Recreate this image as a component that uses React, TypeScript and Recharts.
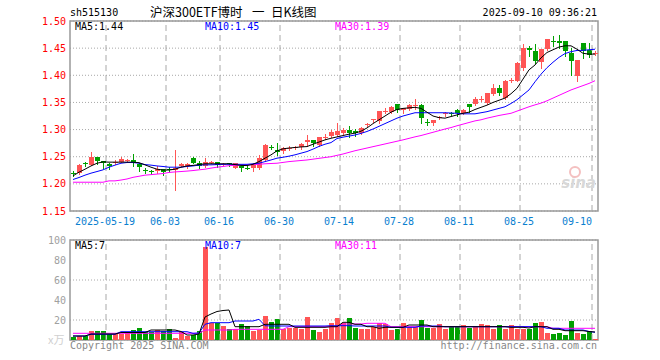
import React from 'react';
import { ComposedChart, Bar, Line, XAxis, YAxis, CartesianGrid, ReferenceLine, ReferenceArea } from 'recharts';

const dates = [
  '2025-05-09','2025-05-12','2025-05-13','2025-05-14','2025-05-15','2025-05-16','2025-05-19','2025-05-20','2025-05-21','2025-05-22',
  '2025-05-23','2025-05-26','2025-05-27','2025-05-28','2025-05-29','2025-05-30','2025-06-03','2025-06-04','2025-06-05','2025-06-06',
  '2025-06-09','2025-06-10','2025-06-11','2025-06-12','2025-06-13','2025-06-16','2025-06-17','2025-06-18','2025-06-19','2025-06-20',
  '2025-06-23','2025-06-24','2025-06-25','2025-06-26','2025-06-27','2025-06-30','2025-07-01','2025-07-02','2025-07-03','2025-07-04',
  '2025-07-07','2025-07-08','2025-07-09','2025-07-10','2025-07-11','2025-07-14','2025-07-15','2025-07-16','2025-07-17','2025-07-18',
  '2025-07-21','2025-07-22','2025-07-23','2025-07-24','2025-07-25','2025-07-28','2025-07-29','2025-07-30','2025-07-31','2025-08-01',
  '2025-08-04','2025-08-05','2025-08-06','2025-08-07','2025-08-08','2025-08-11','2025-08-12','2025-08-13','2025-08-14','2025-08-15',
  '2025-08-18','2025-08-19','2025-08-20','2025-08-21','2025-08-22','2025-08-25','2025-08-26','2025-08-27','2025-08-28','2025-08-29',
  '2025-09-01','2025-09-02','2025-09-03','2025-09-04','2025-09-05','2025-09-08','2025-09-09','2025-09-10',
];

const opens = [
  1.220,1.2197,1.238,1.234,1.249,1.242,1.237,1.239,1.241,1.243,
  1.244,1.237,1.2255,1.223,1.2235,1.227,1.228,1.226,1.233,1.232,
  1.248,1.239,1.232,1.240,1.240,1.236,1.238,1.230,1.233,1.230,
  1.230,1.230,1.244,1.268,1.263,1.261,1.265,1.266,1.267,1.277,
  1.281,1.272,1.285,1.289,1.290,1.294,1.299,1.297,1.2945,1.309,
  1.318,1.315,1.332,1.333,1.347,1.336,1.338,1.344,1.346,1.3135,
  1.312,1.322,1.329,1.331,1.336,1.331,1.347,1.347,1.355,1.349,
  1.366,1.376,1.358,1.391,1.390,1.413,1.4505,1.444,1.425,1.449,
  1.463,1.463,1.463,1.441,1.398,1.459,1.447,1.440,
];
const highs = [
  1.224,1.237,1.240,1.259,1.250,1.242,1.238,1.244,1.249,1.246,
  1.255,1.238,1.229,1.225,1.232,1.228,1.231,1.263,1.238,1.239,
  1.249,1.242,1.248,1.243,1.241,1.238,1.239,1.239,1.233,1.232,
  1.239,1.253,1.273,1.271,1.275,1.267,1.269,1.269,1.275,1.290,
  1.281,1.287,1.291,1.300,1.312,1.302,1.307,1.301,1.304,1.313,
  1.319,1.335,1.340,1.343,1.348,1.340,1.348,1.356,1.347,1.320,
  1.318,1.325,1.332,1.333,1.338,1.338,1.347,1.360,1.361,1.368,
  1.384,1.382,1.391,1.395,1.425,1.457,1.454,1.458,1.448,1.4675,
  1.4715,1.4745,1.463,1.451,1.429,1.459,1.459,1.445,
];
const lows = [
  1.215,1.218,1.233,1.234,1.237,1.229,1.228,1.237,1.240,1.241,
  1.233,1.2245,1.220,1.219,1.220,1.217,1.222,1.188,1.232,1.230,
  1.238,1.229,1.231,1.238,1.231,1.234,1.233,1.229,1.224,1.227,
  1.224,1.228,1.243,1.264,1.2535,1.256,1.262,1.264,1.265,1.270,
  1.270,1.270,1.283,1.287,1.289,1.292,1.286,1.289,1.292,1.307,
  1.314,1.313,1.330,1.330,1.333,1.330,1.336,1.338,1.313,1.308,
  1.309,1.319,1.325,1.327,1.325,1.329,1.333,1.345,1.352,1.348,
  1.364,1.364,1.356,1.388,1.389,1.410,1.436,1.422,1.414,1.447,
  1.454,1.450,1.436,1.400,1.390,1.431,1.433,1.438,
];
const closes = [
  1.219,1.235,1.237,1.250,1.243,1.238,1.233,1.241,1.246,1.244,
  1.238,1.231,1.2245,1.222,1.228,1.221,1.226,1.2295,1.237,1.236,
  1.239,1.233,1.241,1.241,1.235,1.237,1.236,1.238,1.230,1.229,
  1.236,1.248,1.272,1.267,1.258,1.266,1.266,1.267,1.274,1.281,
  1.275,1.2865,1.2865,1.295,1.298,1.300,1.293,1.293,1.3025,1.310,
  1.319,1.334,1.334,1.342,1.336,1.339,1.345,1.346,1.321,1.313,
  1.318,1.324,1.330,1.330,1.331,1.336,1.341,1.356,1.357,1.367,
  1.376,1.368,1.389,1.392,1.4235,1.4505,1.446,1.427,1.448,1.467,
  1.462,1.459,1.445,1.4255,1.428,1.4455,1.438,1.441,
];

const ma5 = [
  1.2147,1.2215,1.227,1.233,1.238,1.2405,1.240,1.240,1.240,1.240,
  1.240,1.239,1.235,1.2307,1.227,1.2255,1.2255,1.227,1.2307,1.233,
  1.234,1.2355,1.237,1.237,1.237,1.237,1.237,1.2355,1.234,1.2337,
  1.236,1.241,1.2473,1.2534,1.2608,1.2645,1.266,1.267,1.268,1.2687,
  1.273,1.277,1.281,1.284,1.2865,1.289,1.2915,1.2934,1.297,1.303,
  1.311,1.318,1.325,1.332,1.337,1.339,1.340,1.341,1.339,1.332,
  1.325,1.322,1.321,1.324,1.327,1.330,1.332,1.337,1.341,1.345,
  1.350,1.354,1.358,1.366,1.376,1.393,1.410,1.419,1.432,1.442,
  1.447,1.452,1.4543,1.4543,1.448,1.4405,1.439,1.439,
];
const ma10 = [
  1.208,1.2117,1.216,1.2197,1.2227,1.2258,1.2307,1.2345,1.238,1.2393,
  1.2393,1.238,1.2355,1.2345,1.233,1.232,1.2307,1.2307,1.2307,1.232,
  1.233,1.2345,1.235,1.235,1.2355,1.236,1.236,1.236,1.236,1.236,
  1.237,1.238,1.241,1.244,1.2473,1.249,1.251,1.2535,1.2565,1.2595,
  1.264,1.269,1.273,1.276,1.2835,1.286,1.288,1.290,1.293,1.2965,
  1.301,1.306,1.311,1.316,1.321,1.325,1.328,1.331,1.331,1.331,
  1.331,1.331,1.331,1.3305,1.330,1.329,1.329,1.329,1.331,1.333,
  1.336,1.339,1.342,1.348,1.355,1.364,1.373,1.388,1.402,1.414,
  1.424,1.433,1.440,1.4435,1.4457,1.446,1.447,1.448,
];
const ma30 = [
  1.203,1.203,1.203,1.203,1.203,1.203,1.2055,1.2055,1.207,1.209,
  1.212,1.214,1.216,1.217,1.218,1.219,1.221,1.222,1.2227,1.2235,
  1.2245,1.2258,1.227,1.229,1.2307,1.232,1.2335,1.234,1.2345,1.235,
  1.2355,1.236,1.237,1.2375,1.238,1.2395,1.241,1.242,1.243,1.244,
  1.2455,1.247,1.2485,1.250,1.2525,1.255,1.258,1.261,1.2635,1.266,
  1.2685,1.271,1.2735,1.276,1.2785,1.281,1.2838,1.2866,1.289,1.292,
  1.295,1.298,1.301,1.3037,1.307,1.310,1.313,1.316,1.318,1.321,
  1.3235,1.326,1.328,1.330,1.334,1.338,1.342,1.3455,1.3487,1.353,
  1.358,1.363,1.368,1.373,1.377,1.381,1.385,1.390,
];

const volumes = [
  2.7,4,4,9.3,9.3,9.3,6,6,6,8.3,
  10,12,8.3,8.3,10,9,11.3,2.3,8.3,4,
  5,9,93.3,16.7,16.7,14.3,11,11,16,14,
  9.3,10,24,18,21,11,12.3,12.3,11,23,
  10,8.3,11,17,21.7,16.7,21.7,12.3,11,11,
  13.3,16.7,15.7,10,11,16.7,13.3,13.3,20,12.3,
  12.3,15.7,11,13.3,13.3,15,12.3,13.3,16,15,
  11,15,11,15,11,11,11,17,18.3,7,
  6,7,5,19.3,7,6,9,1,
];
const volMa5 = [
  4,4,4,6,6,6,6,6,7.5,7.5,
  7.5,7.5,7.5,10,10,10,10,10,8.5,5,
  5,6,23,26,28.5,29.5,30,13.3,13.3,13.3,
  13.3,13.3,15.7,15.7,15.7,15.7,15.7,12.7,12.7,12.7,
  12.7,12.7,12.7,13.3,13.3,17.7,17.7,15.7,15.7,13.3,
  13.3,11.7,12.7,12.7,12.7,12.7,15,15,15,15,
  13.3,13.3,13.3,13.3,13.3,13.3,13.3,13.3,13.3,13.3,
  13.3,13.3,13.3,12.7,12.7,12.7,12,13.3,13.3,13.3,
  10.7,10.7,9.3,9.3,9.3,9.3,8.5,8,
];
const volMa10 = [
  4,4,4,5.7,5.7,5.7,5.7,5.7,8.3,8.3,
  8.3,8.3,8.3,8.3,8.3,8.3,8.3,8.3,8.3,8.3,
  6.7,7,15.7,17.3,17.3,17.3,17.3,19,19,19,
  19,20.7,14.3,14,14,14,14,14,14,14,
  14,14,14,14.3,14.3,14.3,14.3,14,14,14,
  14,14,14,12.7,12.7,12.7,12.7,12.7,14,14,
  14,14,13.3,13.3,13.3,13.3,13.3,13.3,13.3,13.3,
  13.3,13.3,13.3,13.3,13.3,13.3,13.3,13.3,13.3,11.7,
  11.7,11.7,10,10,10,10,8.5,7.7,
];
const volMa30 = [
  6.7,6.7,6.7,6.7,6.7,6.7,6.7,6.7,6.7,6.7,
  6.7,6.7,6.7,6.7,6.7,6.7,6.7,6.7,6.7,6.7,
  6.7,6.7,10,10,10,10,10,10.7,10.7,10.7,
  10.7,10.7,10.7,10.7,10.7,10.7,13.3,13.3,13.3,13.3,
  13.3,13.3,13.3,13.3,13.3,16,16,16,16,16.7,
  16.7,16.7,16.7,13.3,13.3,13.3,13.3,13.3,13.3,13.3,
  13.3,13.3,13.3,13.3,13.3,13.3,13.3,13.3,13.3,13.3,
  13.3,13.3,13.3,13.3,13.3,13.3,13.3,13.3,13.3,13.3,
  11.7,11.7,11.7,11.7,11.7,11.7,11.7,11.7,
];

const priceTicks = [1.15, 1.2, 1.25, 1.3, 1.35, 1.4, 1.45, 1.5];
const volTicks = [20, 40, 60, 80, 100];
const dateTicks = ['2025-05-19','2025-06-03','2025-06-16','2025-06-30','2025-07-14','2025-07-28','2025-08-11','2025-08-25','2025-09-10'];
const dateTickLabels = ['2025-05-19','06-03','06-16','06-30','07-14','07-28','08-11','08-25','09-10'];

const RED = '#ff5555';
const GREEN = '#00a000';
const MONO = '"DejaVu Sans Mono", monospace';
const CJK = '"Noto Sans CJK SC", sans-serif';
const GRID = '#a8a8a8';

const priceData = dates.map((d, i) => ({
  date: d, open: opens[i], high: highs[i], low: lows[i], close: closes[i],
  range: [lows[i], highs[i]], ma5: ma5[i], ma10: ma10[i], ma30: ma30[i],
}));
const volData = dates.map((d, i) => ({
  date: d, vol: volumes[i], up: closes[i] >= opens[i], vma5: volMa5[i], vma10: volMa10[i], vma30: volMa30[i],
}));

const Candle = (props: any) => {
  const { x, y, width, height, payload } = props;
  const { open: o, close: c, high: h, low: l } = payload;
  const top = Math.min(y, y + height);
  const hh = Math.abs(height);
  const k = h - l > 0 ? hh / (h - l) : 0;
  const py = (v: number) => top + (h - v) * k;
  const color = c >= o ? RED : GREEN;
  const left = Math.floor(x);
  const w = Math.round(width);
  const cx = left + Math.floor(w / 2);
  const t = Math.round(top);
  const b = Math.round(top + hh);
  const bt = Math.round(py(Math.max(o, c)));
  const bb = Math.round(py(Math.min(o, c)));
  return (
    <g>
      <rect x={cx} y={t} width={1} height={Math.max(1, b - t + 1)} fill={color} />
      <rect x={left} y={bt} width={w} height={Math.max(1, bb - bt)} fill={color} />
    </g>
  );
};

const VolBar = (props: any) => {
  const { x, y, width, height, payload } = props;
  const left = Math.floor(x);
  const t = Math.round(y);
  const b = Math.round(y + height);
  return <rect x={left} y={t} width={Math.round(width)} height={Math.max(0, b - t)} fill={payload.up ? RED : GREEN} />;
};

const DateTick = (props: any) => {
  const { x, y, payload } = props;
  const idx = dateTicks.indexOf(payload.value);
  const last = idx === dateTicks.length - 1;
  return (
    <text x={last ? x - 3 : x - 4} y={y} dy={13.5} textAnchor={last ? 'end' : 'middle'}
      fill="#0a80d0" fontSize={10} fontFamily={MONO}>
      {dateTickLabels[idx]}
    </text>
  );
};

const vLines = () => dateTicks.map((d) => (
  <ReferenceLine key={d} x={d} position="start" stroke={GRID} strokeDasharray="6 4" strokeWidth={1} />
));

export default function App() {
  return (
    <div style={{ position: 'absolute', left: 0, top: 0, width: 660, height: 360, background: '#fff', overflow: 'hidden' }}>
      <div style={{ position: 'absolute', left: 0, top: 0 }}>
        <ComposedChart width={660} height={232} data={priceData} margin={{ top: 21, right: 62, bottom: 1, left: 0 }}>
          <CartesianGrid vertical={false} stroke={GRID} strokeDasharray="1 2" />
          {vLines()}
          <XAxis dataKey="date" ticks={dateTicks} interval={0} tickLine={false} axisLine={false} height={20}
            tickSize={0} tickMargin={0} tick={<DateTick />} />
          <YAxis domain={[1.15, 1.5]} ticks={priceTicks} width={70} tickLine={false} axisLine={false}
            tickSize={0} tickMargin={4} tickFormatter={(v: number) => v.toFixed(2)}
            tick={{ fill: '#ff0000', fontSize: 10, fontFamily: MONO }} allowDataOverflow />
          <ReferenceArea x1={dates[0]} x2={dates[dates.length - 1]} y1={1.15} y2={1.5} fill="none" stroke="#999" strokeWidth={1.5} ifOverflow="visible" />
          <Bar dataKey="range" barSize={5} shape={<Candle />} isAnimationActive={false} />
          <Line dataKey="ma30" stroke="#ff00ff" strokeWidth={1} dot={false} isAnimationActive={false} />
          <Line dataKey="ma10" stroke="#0000ff" strokeWidth={1} dot={false} isAnimationActive={false} />
          <Line dataKey="ma5" stroke="#000000" strokeWidth={1} dot={false} isAnimationActive={false} />
        </ComposedChart>
      </div>
      <div style={{ position: 'absolute', left: 0, top: 0 }}>
        <ComposedChart width={660} height={360} data={volData} margin={{ top: 240, right: 62, bottom: 20, left: 0 }}>
          <CartesianGrid vertical={false} stroke={GRID} strokeDasharray="1 2" />
          {vLines()}
          <XAxis dataKey="date" hide />
          <YAxis domain={[0, 100]} ticks={volTicks} width={70} tickLine={false} axisLine={false}
            tickSize={0} tickMargin={4} tick={{ fill: '#a0a0a0', fontSize: 10, fontFamily: MONO }} />
          <ReferenceArea x1={dates[0]} x2={dates[dates.length - 1]} y1={0} y2={100} fill="none" stroke="#999" strokeWidth={1.5} ifOverflow="visible" />
          <Bar dataKey="vol" barSize={5} shape={<VolBar />} isAnimationActive={false} />
          <Line dataKey="vma30" stroke="#ff00ff" strokeWidth={1} dot={false} isAnimationActive={false} />
          <Line dataKey="vma10" stroke="#0000ff" strokeWidth={1} dot={false} isAnimationActive={false} />
          <Line dataKey="vma5" stroke="#000000" strokeWidth={1} dot={false} isAnimationActive={false} />
        </ComposedChart>
      </div>
      <svg width={660} height={360} style={{ position: 'absolute', left: 0, top: 0, pointerEvents: 'none' }}>
        <text x={70} y={16} fontSize={10} fontFamily={MONO} fill="#000">sh515130</text>
        <text y={17} fontSize={12.5} fontFamily={CJK} fill="#000">
          <tspan x={150}>沪深300ETF博时</tspan>
          <tspan x={252}>一</tspan>
          <tspan x={271}>日K线图</tspan>
        </text>
        <text x={597} y={16} fontSize={10} fontFamily={MONO} fill="#000" textAnchor="end">2025-09-10 09:36:21</text>
        <text x={75} y={30} fontSize={10} fontFamily={MONO} fill="#000">MA5:1.44</text>
        <text x={205} y={30} fontSize={10} fontFamily={MONO} fill="#0000ff">MA10:1.45</text>
        <text x={335} y={30} fontSize={10} fontFamily={MONO} fill="#ff00ff">MA30:1.39</text>
        <text x={75} y={249} fontSize={10} fontFamily={MONO} fill="#000">MA5:7</text>
        <text x={205} y={249} fontSize={10} fontFamily={MONO} fill="#0000ff">MA10:7</text>
        <text x={335} y={249} fontSize={10} fontFamily={MONO} fill="#ff00ff">MA30:11</text>
        <text x={48} y={344} fontSize={11} fontFamily={CJK} fill="#d0d0d0">x万</text>
        <text x={70} y={349} fontSize={10} fontFamily={MONO} fill="#888">Copyright 2025 SINA.COM</text>
        <text x={597} y={349} fontSize={10} fontFamily={MONO} fill="#888" textAnchor="end">http://finance.sina.com.cn</text>
        <text x={596} y={188} fontSize={15} fontStyle="italic" fontWeight="bold" fontFamily="DejaVu Sans, sans-serif" fill="#d8d8d8" textAnchor="end">sina</text>
        <circle cx={575} cy={172} r={5} fill="none" stroke="#f4c0c0" strokeWidth={2} />
      </svg>
    </div>
  );
}
